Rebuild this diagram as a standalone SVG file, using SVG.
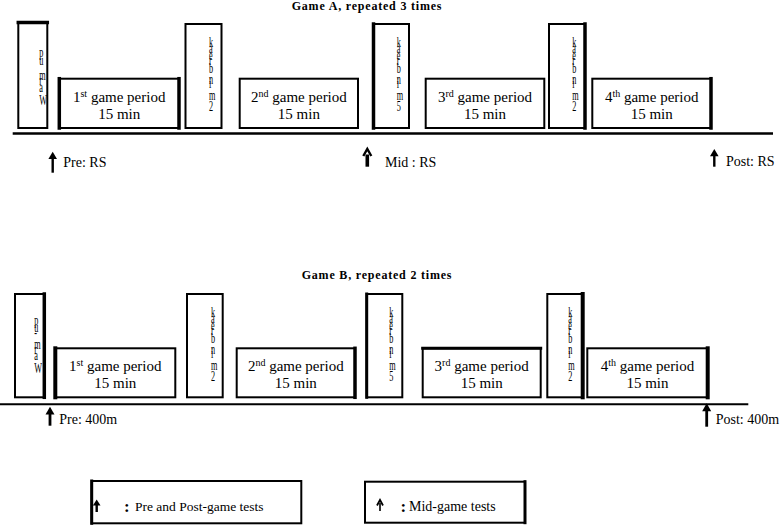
<svg xmlns="http://www.w3.org/2000/svg" width="780" height="525" viewBox="0 0 780 525">
<style>
.bx{fill:#fff;stroke:#000;stroke-width:2}
.tk{stroke:#000;stroke-width:3.5;stroke-linecap:square}
.base{stroke:#000;fill:none}
.t{font-family:"Liberation Serif","Times New Roman",serif;fill:#000}
.gp{font-size:15px;text-anchor:middle}
.sup{font-size:10px}
.vt{font-size:15px}
.lb{font-size:14px}
.ttl{font-size:12px;font-weight:bold;letter-spacing:0.8px}
.col{font-size:17px;font-weight:bold}
.sh{fill:#000}
.chev{fill:none;stroke:#000;stroke-width:2.4}
</style>
<rect width="780" height="525" fill="#fff"/>

<!-- Game A -->
<text class="t ttl" x="291.7" y="9.5">Game A, repeated 3 times</text>
<g id="connectors">
  <line class="base" x1="12.7" y1="133.5" x2="773" y2="133.5" stroke-width="2.6"/>
  <line class="base" x1="0" y1="404.3" x2="748.3" y2="404.3" stroke-width="2"/>
</g>

<g id="A-warmup">
  <rect class="bx" x="18.3" y="23" width="29" height="105"/>
  <line class="tk" x1="18.3" y1="22.5" x2="47.3" y2="22.5"/>
  <text class="t vt" transform="translate(39.3,105) scale(0.55,1) rotate(-90)" rotate="90">Warm up</text>
</g>
<g id="A-game1">
  <rect class="bx" x="59.3" y="78.7" width="119.7" height="49.3"/>
  <line class="tk" x1="59.3" y1="78.7" x2="59.3" y2="128"/>
  <line class="tk" x1="179" y1="78.7" x2="179" y2="128"/>
  <text class="t gp" x="119.2" y="101.5">1<tspan class="sup" dy="-5">st</tspan><tspan dy="5"> game period</tspan></text>
  <text class="t gp" x="119.2" y="118.5">15 min</text>
</g>
<g id="A-break1">
  <rect class="bx" x="185.5" y="24" width="36" height="104"/>
  <text class="t vt" transform="translate(209,111) scale(0.55,1) rotate(-90)" rotate="90">2 min break</text>
</g>
<g id="A-game2">
  <rect class="bx" x="239.7" y="78.7" width="118.3" height="49.3"/>
  <text class="t gp" x="298.9" y="101.5">2<tspan class="sup" dy="-5">nd</tspan><tspan dy="5"> game period</tspan></text>
  <text class="t gp" x="298.9" y="118.5">15 min</text>
</g>
<g id="A-break2">
  <rect class="bx" x="373.5" y="24" width="35.5" height="104"/>
  <line class="tk" x1="373.5" y1="24" x2="373.5" y2="128"/>
  <text class="t vt" transform="translate(396.7,111) scale(0.55,1) rotate(-90)" rotate="90">5 min break</text>
</g>
<g id="A-game3">
  <rect class="bx" x="425.7" y="78.7" width="118.6" height="49.3"/>
  <text class="t gp" x="485" y="101.5">3<tspan class="sup" dy="-5">rd</tspan><tspan dy="5"> game period</tspan></text>
  <text class="t gp" x="485" y="118.5">15 min</text>
</g>
<g id="A-break3">
  <rect class="bx" x="549" y="24" width="36" height="104"/>
  <line class="tk" x1="585" y1="24" x2="585" y2="128"/>
  <text class="t vt" transform="translate(572.3,111) scale(0.55,1) rotate(-90)" rotate="90">2 min break</text>
</g>
<g id="A-game4">
  <rect class="bx" x="592.3" y="78.7" width="118.7" height="49.3"/>
  <line class="tk" x1="711" y1="78.7" x2="711" y2="128"/>
  <text class="t gp" x="651.7" y="101.5">4<tspan class="sup" dy="-5">th</tspan><tspan dy="5"> game period</tspan></text>
  <text class="t gp" x="651.7" y="118.5">15 min</text>
</g>

<g id="A-pre">
  <path class="sh" d="M52.7,151.7 L57,159 L48.4,159 Z"/>
  <rect class="sh" x="51.5" y="157" width="2.4" height="15.7"/>
  <text class="t lb" x="63.3" y="166.7">Pre: RS</text>
</g>
<g id="A-mid">
  <polyline class="chev" points="363.3,156 367.3,149 371.3,156"/>
  <rect class="sh" x="365.5" y="154.5" width="3.6" height="12.2"/>
  <text class="t lb" x="385" y="166.7">Mid : RS</text>
</g>
<g id="A-post">
  <path class="sh" d="M714.3,149 L718.6,156.3 L710,156.3 Z"/>
  <rect class="sh" x="713.1" y="154" width="2.4" height="12.7"/>
  <text class="t lb" x="726" y="165.7">Post: RS</text>
</g>

<!-- Game B -->
<text class="t ttl" x="301.7" y="278.7">Game B, repeated 2 times</text>

<g id="B-warmup">
  <rect class="bx" x="15" y="294" width="29.3" height="103.3"/>
  <line class="tk" x1="44.3" y1="294" x2="44.3" y2="397.3"/>
  <text class="t vt" transform="translate(34.3,373.3) scale(0.55,1) rotate(-90)" rotate="90">Warm-up</text>
</g>
<g id="B-game1">
  <rect class="bx" x="55.3" y="348.3" width="120" height="49" stroke-width="3"/>
  <line class="tk" x1="55.3" y1="348.3" x2="55.3" y2="397.3" style="stroke-width:4"/>
  <text class="t gp" x="115.3" y="371">1<tspan class="sup" dy="-5">st</tspan><tspan dy="5"> game period</tspan></text>
  <text class="t gp" x="115.3" y="388">15 min</text>
</g>
<g id="B-break1">
  <rect class="bx" x="187" y="294" width="35.7" height="103.3"/>
  <text class="t vt" transform="translate(211,381) scale(0.55,1) rotate(-90)" rotate="90">2 min break</text>
</g>
<g id="B-game2">
  <rect class="bx" x="236.7" y="348.3" width="118.3" height="49" stroke-width="2.5"/>
  <line class="tk" x1="355" y1="348.3" x2="355" y2="397.3"/>
  <text class="t gp" x="295.8" y="371">2<tspan class="sup" dy="-5">nd</tspan><tspan dy="5"> game period</tspan></text>
  <text class="t gp" x="295.8" y="388">15 min</text>
</g>
<g id="B-break2">
  <rect class="bx" x="366.7" y="294" width="35.6" height="103.3"/>
  <line class="tk" x1="366.7" y1="294" x2="366.7" y2="397.3" style="stroke-width:3"/>
  <text class="t vt" transform="translate(389.3,381) scale(0.55,1) rotate(-90)" rotate="90">5 min break</text>
</g>
<g id="B-game3">
  <rect class="bx" x="422.7" y="348.3" width="118" height="49"/>
  <line class="tk" x1="422.7" y1="348.3" x2="540.7" y2="348.3" style="stroke-width:3"/>
  <text class="t gp" x="481.7" y="371">3<tspan class="sup" dy="-5">rd</tspan><tspan dy="5"> game period</tspan></text>
  <text class="t gp" x="481.7" y="388">15 min</text>
</g>
<g id="B-break3">
  <rect class="bx" x="547.3" y="294" width="35.4" height="103.3"/>
  <line class="tk" x1="582.7" y1="294" x2="582.7" y2="397.3" style="stroke-width:4"/>
  <text class="t vt" transform="translate(568.3,381) scale(0.55,1) rotate(-90)" rotate="90">2 min break</text>
</g>
<g id="B-game4">
  <rect class="bx" x="587.3" y="348.3" width="120.4" height="49" stroke-width="3.2"/>
  <line class="tk" x1="707.7" y1="348.3" x2="707.7" y2="397.3" style="stroke-width:4"/>
  <text class="t gp" x="647.5" y="371">4<tspan class="sup" dy="-5">th</tspan><tspan dy="5"> game period</tspan></text>
  <text class="t gp" x="647.5" y="388">15 min</text>
</g>

<g id="B-pre">
  <path class="sh" d="M50,406.7 L54.5,414.5 L45.5,414.5 Z"/>
  <rect class="sh" x="48.6" y="412" width="2.8" height="13.7"/>
  <text class="t lb" x="59.3" y="424.3">Pre: 400m</text>
</g>
<g id="B-post">
  <path class="sh" d="M706.7,403.3 L711.2,411.3 L702.2,411.3 Z"/>
  <rect class="sh" x="705.3" y="409" width="2.8" height="17.7"/>
  <text class="t lb" x="715.7" y="424.3">Post: 400m</text>
</g>

<!-- Legend -->
<g id="legend-prepost">
  <rect class="bx" x="91.7" y="481" width="209.6" height="42.3"/>
  <line class="tk" x1="91.7" y1="481" x2="91.7" y2="523.3" style="stroke-width:3"/>
  <path class="sh" d="M96.7,499.5 L100.5,505.5 L92.9,505.5 Z"/>
  <rect class="sh" x="95.5" y="503" width="2.4" height="9"/>
  <text class="t col" x="124" y="511.5">:</text>
  <text class="t" x="135" y="511" font-size="13.5">Pre and Post-game tests</text>
</g>
<g id="legend-mid">
  <rect class="bx" x="365" y="481.7" width="160" height="41"/>
  <line class="tk" x1="525" y1="481.7" x2="525" y2="522.7" style="stroke-width:3"/>
  <polyline class="chev" points="377,505.5 380,500 383,505.5" style="stroke-width:1.8"/>
  <rect class="sh" x="379.2" y="503" width="1.6" height="8"/>
  <text class="t col" x="400.5" y="511.5">:</text>
  <text class="t lb" x="409" y="511">Mid-game tests</text>
</g>
</svg>
